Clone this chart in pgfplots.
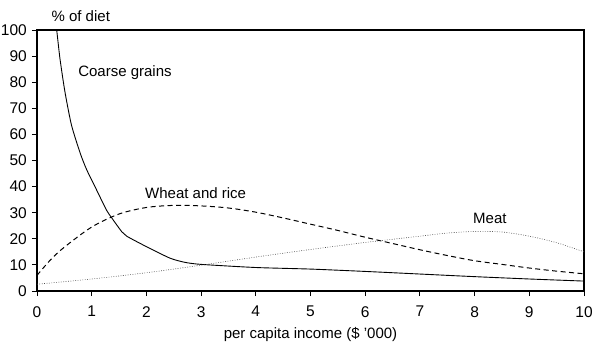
\documentclass[border=0pt]{standalone}
\usepackage{fontspec}
\setmainfont{Liberation Sans}
\usepackage{pgfplots}
\pgfplotsset{compat=1.18}
\usetikzlibrary{calc}

\begin{document}
\fontsize{15bp}{18bp}\selectfont
\begin{tikzpicture}
\begin{axis}[
  name=ax,
  scale only axis,
  width=547bp, height=261bp,
  xmin=0, xmax=10, ymin=0, ymax=100,
  xtick={0,1,...,10}, ytick={0,10,...,100},
  tick align=outside,
  major tick length=5bp,
  xtick pos=bottom, ytick pos=left,
  axis line style={line width=1.3pt},
  tick style={line width=1pt, black},
  tick label style={font=\fontsize{15.5bp}{18bp}\selectfont},
  xticklabel style={yshift=-5bp},
  /pgf/number format/assume math mode=true,
  xlabel={per capita income (\$ '000)},
  xlabel style={font=\fontsize{15bp}{18bp}\selectfont, yshift=0bp},
  clip mode=individual,
]
  % Coarse grains
  \addplot[black, line width=0.9pt, smooth, tension=0.4] coordinates {
    (0.33,104) (0.36,100) (0.42,89) (0.51,76.4) (0.63,63.6) (0.79,52.8)
    (0.91,46.4) (1.09,38.7) (1.27,31) (1.37,27.9) (1.55,22.7) (1.64,21)
    (2.0,17.0) (2.43,12.6) (2.7,11) (3.0,10.2) (4.0,9.0) (5.0,8.4)
    (6.0,7.5) (7.0,6.5) (8.0,5.5) (9.0,4.6) (10.0,3.8)
  };
  % Wheat and rice
  \addplot[black, line width=1pt, dash pattern=on 5bp off 3.5bp, smooth] coordinates {
    (0,6) (0.25,12) (0.5,16.8) (1,24.5) (1.5,29.5) (2,32) (2.5,32.8) (3,32.6)
    (3.5,31.8) (4,30.2) (4.5,28) (5,25.6) (5.5,23.2) (6,20.6) (6.5,18.2)
    (7,15.8) (7.5,13.6) (8,11.6) (8.5,10.2) (9,8.8) (9.5,7.6) (10,6.6)
  };
  % Meat
  \addplot[black!70, line width=0.6pt, dash pattern=on 0.8bp off 1.6bp, smooth] coordinates {
    (0,2.6) (1,4.6) (2,7.0) (3,9.9) (4,13.0) (5,15.9) (6,18.6) (7,21.0)
    (7.5,22.2) (8,22.8) (8.5,22.6) (9,21.0) (9.5,18.5) (10,15.0)
  };
  \node[anchor=west] at (axis cs:0.66,83.5) {Coarse grains};
  \node at (axis cs:2.9,37.5) {Wheat and rice};
  \node at (axis cs:8.28,28) {Meat};
  \node at (axis cs:0.80,105.3) {\% of diet};
\end{axis}
\pgfresetboundingbox
\path ($(ax.south west)+(-37bp,-60bp)$) rectangle ($(ax.north east)+(16bp,30bp)$);
\end{tikzpicture}
\end{document}
